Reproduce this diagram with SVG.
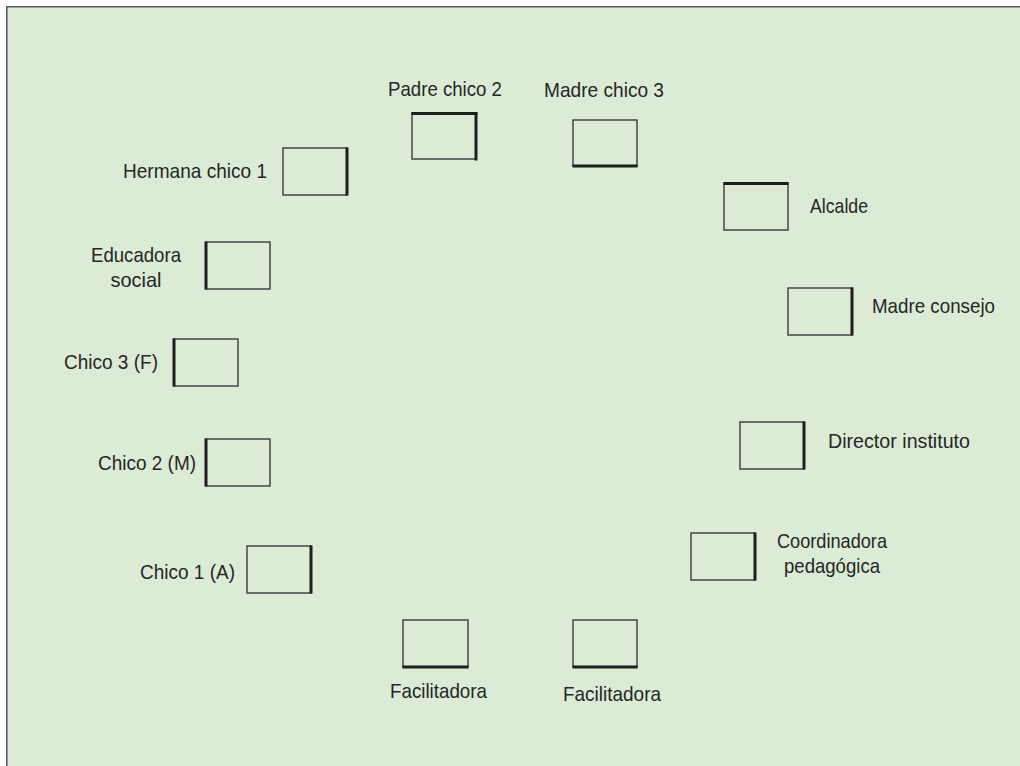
<svg xmlns="http://www.w3.org/2000/svg" width="1020" height="766" viewBox="0 0 1020 766">
<style>
.bg{fill:#dbebd5}
.frame{stroke:#5a5a5a;stroke-width:1.6;fill:none}
.box{fill:none;stroke:#3a3a3a;stroke-width:1.4}
.edge{stroke:#1e1e1e;stroke-width:3;fill:none;stroke-linecap:square}
text{font-family:"Liberation Sans",Arial,sans-serif;font-size:21px;fill:#262626}
.e{text-anchor:end}
.m{text-anchor:middle}
</style>
<rect x="0" y="0" width="1020" height="766" fill="#ffffff"/>
<rect class="bg" x="7" y="7" width="1013" height="759"/>
<path class="frame" d="M6.8 766 V6.8 H1020"/>
<g id="connectors"/>
<g id="hermana"><rect class="box" x="283" y="148" width="64" height="47"/><line class="edge" x1="347" y1="149" x2="347" y2="194"/><text class="e" x="267" y="178" textLength="144" lengthAdjust="spacingAndGlyphs">Hermana chico 1</text></g>
<g id="padre2"><rect class="box" x="412" y="113" width="64" height="46"/><line class="edge" x1="413" y1="113.5" x2="476" y2="113.5"/><line class="edge" x1="476" y1="114" x2="476" y2="159"/><text x="388" y="96" textLength="114" lengthAdjust="spacingAndGlyphs">Padre chico 2</text></g>
<g id="madre3"><rect class="box" x="573" y="120" width="64" height="46"/><line class="edge" x1="574" y1="166" x2="636" y2="166"/><text x="544" y="97" textLength="120" lengthAdjust="spacingAndGlyphs">Madre chico 3</text></g>
<g id="alcalde"><rect class="box" x="724" y="183" width="64" height="47"/><line class="edge" x1="725" y1="183.5" x2="787" y2="183.5"/><text x="810" y="213" textLength="58" lengthAdjust="spacingAndGlyphs">Alcalde</text></g>
<g id="madreconsejo"><rect class="box" x="788" y="288" width="64" height="47"/><line class="edge" x1="852" y1="289" x2="852" y2="334"/><text x="872" y="313" textLength="123" lengthAdjust="spacingAndGlyphs">Madre consejo</text></g>
<g id="director"><rect class="box" x="740" y="422" width="64" height="47"/><line class="edge" x1="804" y1="423" x2="804" y2="468"/><text x="828" y="448" textLength="142" lengthAdjust="spacingAndGlyphs">Director instituto</text></g>
<g id="coordinadora"><rect class="box" x="691" y="533" width="64" height="47"/><line class="edge" x1="755" y1="534" x2="755" y2="579"/><text class="m" x="832" y="548" textLength="110" lengthAdjust="spacingAndGlyphs">Coordinadora</text><text class="m" x="832" y="573" textLength="96" lengthAdjust="spacingAndGlyphs">pedagógica</text></g>
<g id="facil2"><rect class="box" x="573" y="620" width="64" height="47"/><line class="edge" x1="574" y1="667" x2="636" y2="667"/><text x="563" y="701" textLength="98" lengthAdjust="spacingAndGlyphs">Facilitadora</text></g>
<g id="facil1"><rect class="box" x="403" y="620" width="65" height="47"/><line class="edge" x1="404" y1="667" x2="467" y2="667"/><text x="390" y="698" textLength="97" lengthAdjust="spacingAndGlyphs">Facilitadora</text></g>
<g id="chico1"><rect class="box" x="247" y="546" width="64" height="47"/><line class="edge" x1="311" y1="547" x2="311" y2="592"/><text class="e" x="235" y="579" textLength="95" lengthAdjust="spacingAndGlyphs">Chico 1 (A)</text></g>
<g id="chico2"><rect class="box" x="206" y="439" width="64" height="47"/><line class="edge" x1="206" y1="440" x2="206" y2="485"/><text class="e" x="196" y="470" textLength="98" lengthAdjust="spacingAndGlyphs">Chico 2 (M)</text></g>
<g id="chico3"><rect class="box" x="174" y="339" width="64" height="47"/><line class="edge" x1="174" y1="340" x2="174" y2="385"/><text class="e" x="158" y="369" textLength="94" lengthAdjust="spacingAndGlyphs">Chico 3 (F)</text></g>
<g id="educadora"><rect class="box" x="206" y="242" width="64" height="47"/><line class="edge" x1="206" y1="243" x2="206" y2="288"/><text class="m" x="136" y="262" textLength="90" lengthAdjust="spacingAndGlyphs">Educadora</text><text class="m" x="136" y="287" textLength="51" lengthAdjust="spacingAndGlyphs">social</text></g>
</svg>
